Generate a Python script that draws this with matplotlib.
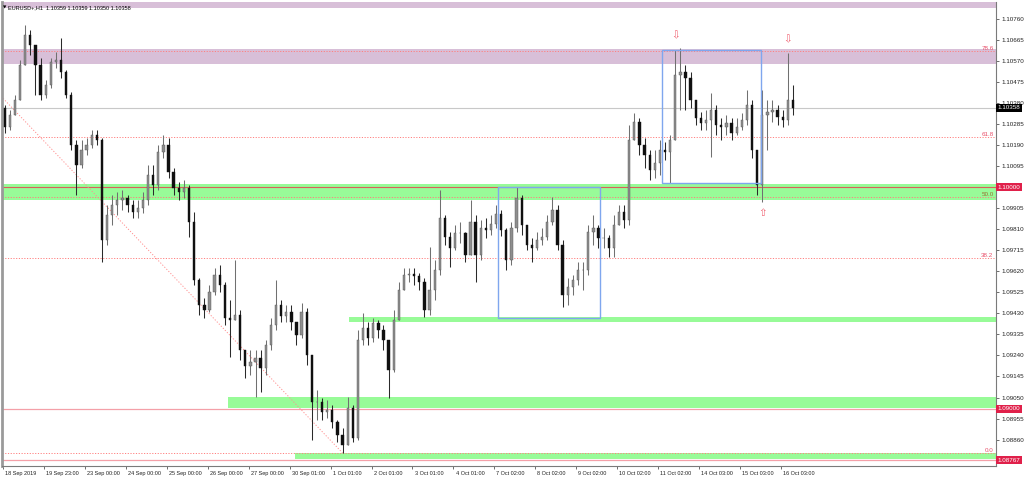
import matplotlib
matplotlib.use("Agg")
import matplotlib.pyplot as plt
import matplotlib.transforms as mtransforms
from matplotlib.patches import Rectangle

# ---------------- data ----------------
title_text = "EURUSD+,H1  1.10359 1.10359 1.10350 1.10358"
bars_per_candle = 3          # each drawn candle aggregates 3 hourly bars
first_open = 1.10357

closes = [1.10271, 1.10325, 1.10393, 1.10551, 1.10686, 1.10641, 1.10551, 1.10415, 1.10460, 1.10564,
          1.10573, 1.10519, 1.10415, 1.10190, 1.10099, 1.10167, 1.10190, 1.10235, 1.10212, 1.09761,
          1.09874, 1.09919, 1.09941, 1.09950, 1.09919, 1.09887, 1.09905, 1.09941, 1.10054, 1.10009,
          1.10158, 1.10190, 1.10068, 1.09996, 1.09978, 1.09996, 1.09842, 1.09580, 1.09468, 1.09445,
          1.09526, 1.09603, 1.09558, 1.09409, 1.09400, 1.09422, 1.09264, 1.09192, 1.09210, 1.09228,
          1.09183, 1.09287, 1.09377, 1.09468, 1.09418, 1.09436, 1.09391, 1.09332, 1.09436, 1.09242,
          1.09030, 1.09030, 1.08985, 1.08994, 1.08940, 1.08881, 1.08836, 1.09003, 1.08867, 1.09310,
          1.09364, 1.09319, 1.09386, 1.09355, 1.09310, 1.09174, 1.09400, 1.09535, 1.09603, 1.09607,
          1.09598, 1.09571, 1.09445, 1.09535, 1.09625, 1.09860, 1.09774, 1.09725, 1.09792, 1.09792,
          1.09693, 1.09842, 1.09693, 1.09815, 1.09806, 1.09833, 1.09878, 1.09806, 1.09671, 1.09815,
          1.09950, 1.09829, 1.09738, 1.09725, 1.09761, 1.09774, 1.09842, 1.09896, 1.09738, 1.09513,
          1.09549, 1.09580, 1.09625, 1.09625, 1.09797, 1.09815, 1.09770, 1.09770, 1.09725, 1.09829,
          1.09887, 1.09851, 1.10212, 1.10293, 1.10190, 1.10144, 1.10077, 1.10108, 1.10167, 1.10158,
          1.10212, 1.10506, 1.10519, 1.10492, 1.10393, 1.10311, 1.10289, 1.10302, 1.10348, 1.10280,
          1.10271, 1.10289, 1.10244, 1.10271, 1.10302, 1.10370, 1.10167, 1.10009, 1.10325, 1.10339,
          1.10348, 1.10316, 1.10302, 1.10393, 1.10358]

highs = [1.10370, 1.10348, 1.10415, 1.10573, 1.10731, 1.10709, 1.10641, 1.10582, 1.10483, 1.10582,
         1.10609, 1.10673, 1.10528, 1.10429, 1.10212, 1.10212, 1.10221, 1.10257, 1.10257, 1.10221,
         1.09919, 1.09964, 1.09978, 1.09987, 1.09964, 1.09941, 1.09941, 1.09978, 1.10099, 1.10099,
         1.10190, 1.10235, 1.10221, 1.10086, 1.10023, 1.10032, 1.10009, 1.09887, 1.09589, 1.09499,
         1.09558, 1.09635, 1.09648, 1.09571, 1.09490, 1.09671, 1.09445, 1.09264, 1.09264, 1.09264,
         1.09264, 1.09310, 1.09409, 1.09580, 1.09490, 1.09468, 1.09468, 1.09377, 1.09477, 1.09454,
         1.09219, 1.09084, 1.09048, 1.09039, 1.09016, 1.08949, 1.08912, 1.09052, 1.09016, 1.09355,
         1.09431, 1.09391, 1.09409, 1.09400, 1.09377, 1.09310, 1.09445, 1.09571, 1.09635, 1.09635,
         1.09635, 1.09612, 1.09589, 1.09729, 1.09671, 1.09987, 1.09874, 1.09797, 1.09829, 1.09842,
         1.09797, 1.09941, 1.09874, 1.09851, 1.09860, 1.09874, 1.09919, 1.09896, 1.09815, 1.09842,
         1.10000, 1.09964, 1.09829, 1.09770, 1.09797, 1.09815, 1.09874, 1.09955, 1.09919, 1.09761,
         1.09589, 1.09603, 1.09662, 1.09662, 1.09829, 1.09874, 1.09829, 1.09815, 1.09783, 1.09874,
         1.09919, 1.09919, 1.10280, 1.10334, 1.10311, 1.10221, 1.10167, 1.10167, 1.10212, 1.10203,
         1.10235, 1.10618, 1.10627, 1.10551, 1.10519, 1.10393, 1.10339, 1.10348, 1.10424, 1.10370,
         1.10311, 1.10325, 1.10311, 1.10311, 1.10334, 1.10438, 1.10393, 1.10167, 1.10438, 1.10393,
         1.10393, 1.10370, 1.10348, 1.10605, 1.10460]

lows = [1.10244, 1.10257, 1.10325, 1.10393, 1.10627, 1.10596, 1.10415, 1.10393, 1.10402, 1.10447,
        1.10537, 1.10492, 1.10402, 1.10167, 1.09964, 1.10086, 1.10144, 1.10176, 1.10190, 1.09662,
        1.09738, 1.09829, 1.09874, 1.09896, 1.09887, 1.09860, 1.09860, 1.09883, 1.09919, 1.09964,
        1.09987, 1.10131, 1.10041, 1.09964, 1.09941, 1.09950, 1.09774, 1.09558, 1.09422, 1.09409,
        1.09436, 1.09513, 1.09526, 1.09377, 1.09233, 1.09400, 1.09219, 1.09138, 1.09152, 1.09052,
        1.09075, 1.09152, 1.09264, 1.09355, 1.09391, 1.09391, 1.09355, 1.09287, 1.09319, 1.09197,
        1.08858, 1.08949, 1.08949, 1.08958, 1.08912, 1.08849, 1.08800, 1.08903, 1.08849, 1.08858,
        1.09287, 1.09287, 1.09301, 1.09319, 1.09264, 1.09048, 1.09165, 1.09400, 1.09535, 1.09571,
        1.09558, 1.09535, 1.09413, 1.09422, 1.09490, 1.09603, 1.09738, 1.09639, 1.09716, 1.09747,
        1.09662, 1.09716, 1.09571, 1.09671, 1.09770, 1.09783, 1.09815, 1.09779, 1.09625, 1.09648,
        1.09797, 1.09783, 1.09716, 1.09662, 1.09716, 1.09738, 1.09761, 1.09829, 1.09716, 1.09459,
        1.09468, 1.09513, 1.09558, 1.09535, 1.09603, 1.09738, 1.09725, 1.09725, 1.09684, 1.09684,
        1.09829, 1.09815, 1.09829, 1.10212, 1.10144, 1.10086, 1.10032, 1.10041, 1.10054, 1.10122,
        1.10018, 1.10212, 1.10348, 1.10348, 1.10357, 1.10280, 1.10257, 1.10257, 1.10135, 1.10235,
        1.10212, 1.10235, 1.10212, 1.10235, 1.10257, 1.10280, 1.10131, 1.09964, 1.09932, 1.10167,
        1.10293, 1.10280, 1.10271, 1.10280, 1.10325]

x_labels = ["18 Sep 2019", "19 Sep 23:00", "23 Sep 00:00", "24 Sep 00:00", "25 Sep 00:00",
            "26 Sep 00:00", "27 Sep 00:00", "30 Sep 01:00", "1 Oct 01:00", "2 Oct 01:00",
            "3 Oct 01:00", "4 Oct 01:00", "7 Oct 02:00", "8 Oct 02:00", "9 Oct 02:00",
            "10 Oct 02:00", "11 Oct 02:00", "14 Oct 03:00", "15 Oct 03:00", "16 Oct 03:00"]
label_step_bars = 24

ytick_top = 1.10760
ytick_step = 0.00095
ytick_count = 21

current_price = 1.10358
red_levels = [1.10000, 1.09000, 1.08767]

pink_zone = (1.10554, 1.10623)
top_zone = (1.10808, 1.10845)
green_zones = [(1.09942, 1.10014, 0), (1.09392, 1.09415, 203),
               (1.09004, 1.09054, 132), (1.08771, 1.08800, 171)]
blue_boxes = [(290, 350, 1.09408, 1.09999), (386, 444, 1.10020, 1.10617)]
arrows = [(394, 1.10684, "down"), (460, 1.10668, "down"), (445, 1.09883, "up")]

fib_low, fib_low_bar = 1.08800, 199
fib_high, fib_high_bar = 1.11108, -88
fib_levels = [0.0, 38.2, 50.0, 61.8, 78.6]

# ---------------- figure ----------------
W, H = 1024, 478
fig = plt.figure(figsize=(W / 100, H / 100), dpi=100)
fig.patch.set_facecolor("white")
ax = fig.add_axes([2 / W, 12 / H, 994 / W, 464 / H])
ax.set_xlim(-0.6, 582)
ax.set_ylim(1.08741, 1.10835)

FONT = ["Liberation Sans Narrow", "Liberation Sans", "DejaVu Sans"]
fs_y = 4.5
fs_x = 4.0

# zones
ax.axhspan(top_zone[0], top_zone[1], color="#D8BFD8", zorder=0, lw=0)
ax.axhspan(pink_zone[0], pink_zone[1], color="#D8BFD8", zorder=0, lw=0)
for lo, hi, start in green_zones:
    ax.add_patch(Rectangle((start, lo), 600, hi - lo, facecolor="#98FB98",
                           edgecolor="none", zorder=0))

# horizontal lines
ax.axhline(current_price, color="#C8C8C8", lw=0.8, zorder=1)
ax.axhline(red_levels[0], color="#D9605A", lw=0.8, zorder=1)
for lv in red_levels[1:]:
    ax.axhline(lv, color="#F4A0A8", lw=0.9, zorder=1)

# fibonacci
rng = fib_high - fib_low
for lv in fib_levels:
    p = fib_low + rng * lv / 100.0
    ax.axhline(p, color="#FF8080", lw=0.7, ls=(0, (1.2, 1.6)), zorder=1)
    ax.text(580.5, p, f"{lv:.1f}", ha="right", va="bottom", fontsize=4.5,
            color="#E8506A" if lv != 50.0 else "#9A7030", family=FONT, zorder=5)
ax.plot([fib_high_bar, fib_low_bar], [fib_high, fib_low], color="#FF9090",
        lw=0.7, ls=(0, (1.2, 1.8)), zorder=1)

# blue boxes
for x0, x1, lo, hi in blue_boxes:
    ax.add_patch(Rectangle((x0, lo), x1 - x0, hi - lo, facecolor="none",
                           edgecolor="#7FA6EE", lw=1.0, zorder=4))

# candles
opens = [first_open] + closes[:-1]
for i, (o, h, l, c) in enumerate(zip(opens, highs, lows, closes)):
    x = bars_per_candle * i + 1
    hi = max(h, o, c)
    lo = min(l, o, c)
    bull = c >= o
    wick_col = "#707070" if bull else "#2A2A2A"
    ax.vlines(x, lo, hi, color=wick_col, lw=0.75, zorder=3)
    body_col = "#8E8E8E" if bull else "#101010"
    bh = abs(c - o)
    ax.bar(x, max(bh, 0.000012), width=1.35, bottom=min(o, c), color=body_col,
           edgecolor="#555555" if bull else "#101010", lw=0.3, zorder=3)

# arrows
for b, p, d in arrows:
    ax.text(b, p, "\u21e9" if d == "down" else "\u21e7", ha="center", va="center",
            fontsize=7.5, color="#F06070", family=["DejaVu Sans"], zorder=6)

# title
ax.text(0.0012, 0.988, "\u25bc", transform=ax.transAxes, fontsize=3.2,
        va="center", ha="left", family=["DejaVu Sans"], color="black")
ax.text(0.0065, 0.988, title_text, transform=ax.transAxes, fontsize=fs_x,
        va="center", ha="left", family=FONT, color="black", zorder=6)

# axes styling
ax.spines["top"].set_visible(False)
ax.spines["left"].set_color("#9A9A9A")
ax.spines["left"].set_linewidth(2.0)
ax.spines["right"].set_color("#7A7A7A")
ax.spines["right"].set_linewidth(0.8)
ax.spines["bottom"].set_color("#7A7A7A")
ax.spines["bottom"].set_linewidth(0.8)

yt = [round(ytick_top - k * ytick_step, 5) for k in range(ytick_count)]
ax.yaxis.tick_right()
ax.set_yticks(yt)
# the 1.10000 tick label is hidden behind the red price tag (as in MT4)
ax.set_yticklabels(["" if abs(v - red_levels[0]) < 1e-7 else f"{v:.5f}" for v in yt],
                   family=FONT, fontsize=fs_y)
ax.tick_params(axis="y", direction="out", length=2.5, width=0.6, color="#555555",
               pad=1.2, labelcolor="#222222")

xt = [k * label_step_bars for k in range(len(x_labels))]
ax.set_xticks(xt)
ax.set_xticklabels(x_labels, family=FONT, fontsize=fs_x, ha="left")
ax.tick_params(axis="x", direction="out", length=2.5, width=0.6, color="#555555",
               pad=0.8, labelcolor="#222222")
off = mtransforms.ScaledTranslation(1.5 / 72, 0, fig.dpi_scale_trans)
for lab in ax.get_xticklabels():
    lab.set_transform(lab.get_transform() + off)

# price labels on the scale
ytr = ax.get_yaxis_transform()
ax.text(1.0015, current_price, f"{current_price:.5f}", transform=ytr, ha="left",
        va="center", fontsize=fs_y, family=FONT, color="white", zorder=10, clip_on=False,
        bbox=dict(boxstyle="square,pad=0.25", fc="black", ec="none"))
for lv in red_levels:
    ax.text(1.0015, lv, f"{lv:.5f}", transform=ytr, ha="left", va="center",
            fontsize=fs_y, family=FONT, color="white", zorder=10, clip_on=False,
            bbox=dict(boxstyle="square,pad=0.25", fc="#E0204A", ec="none"))

fig.savefig("out.png", dpi=100, facecolor="white")
